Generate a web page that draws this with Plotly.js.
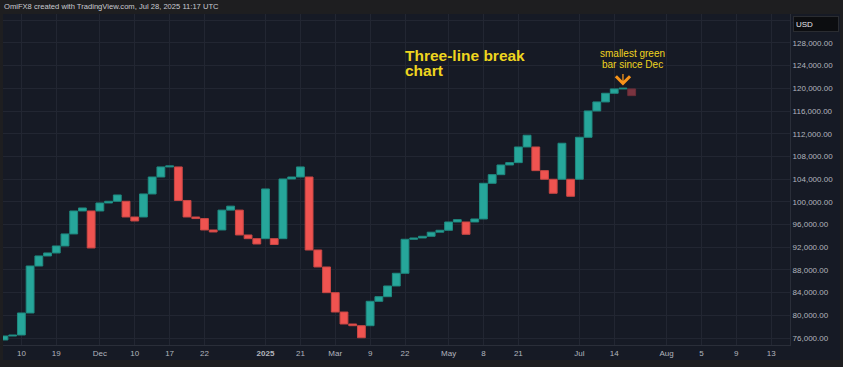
<!DOCTYPE html>
<html>
<head>
<meta charset="utf-8">
<script src="https://cdn.plot.ly/plotly-3.0.1.min.js"></script>
<style>
  html, body { margin:0; padding:0; width:843px; height:367px; overflow:hidden; background:#1e1e20; }
  #hdr { position:absolute; left:0; top:0; width:843px; height:14px; background:#1e1e20;
         font-family:"Liberation Sans", Arial, sans-serif; font-size:7.6px; color:#c9cbd1;
         line-height:13px; padding-left:4px; box-sizing:border-box; white-space:nowrap; }
  #chart { position:absolute; left:3px; top:14px; width:837px; height:346px; }
</style>
</head>
<body>
<div id="hdr">OmiFX8 created with TradingView.com, Jul 28, 2025 11:17 UTC</div>
<div id="chart"></div>
<script>
// ---- data ----
const firstOpen = 75650;
const closes = [
  76350, 76530, 80410, 88690, 90460, 90990, 92220, 94340, 98390, 98920,
  91870, 99800, 100100, 101210, 97330, 96630, 101390, 104380, 106150, 106350,
  100240, 97330, 97050, 95040, 94690, 98540, 99240, 94160, 93510, 92570,
  102270, 92480, 104030, 104380, 106150, 91510, 88520, 83990, 80580, 78470,
  78170, 76050, 82470, 83280, 85170, 87410, 93400, 93630, 93930, 94650,
  94990, 96450, 96860, 94280, 96980, 103270, 104790, 106500, 106910, 109670,
  111740, 105500, 103980, 101510, 110330, 100980, 111380, 116020, 117610, 119140,
  119900, 120050, 118720
];
const lastBarPending = true;
const tickIdx    = [2, 6, 11, 15, 19, 23, 30, 34, 38, 42, 46, 51, 55, 59, 66, 70, 76, 80, 84, 88];
const tickLabels = ["10","19","Dec","10","17","22","<b>2025</b>","21","Mar","9","22","May","8","21","Jul","14","Aug","5","9","13"];

// ---- build three-line-break boxes ----
const xs = [], bases = [], heights = [], fills = [], borders = [];
let prevO = firstOpen, prevC = null;
closes.forEach((c, i) => {
  let o, up;
  if (i === 0) { o = firstOpen; up = c > o; }
  else {
    up = c > prevC;
    o = up ? Math.max(prevO, prevC) : Math.min(prevO, prevC);
  }
  xs.push(i);
  bases.push(Math.min(o, c));
  heights.push(Math.abs(c - o));
  const pending = lastBarPending && i === closes.length - 1;
  if (pending) { fills.push('#7a3440'); borders.push('#6a2d37'); }
  else if (up) { fills.push('#26a69a'); borders.push('#1f8a80'); }
  else { fills.push('#ef5350'); borders.push('#c94744'); }
  prevO = o; prevC = c;
});

const trace = {
  type: 'bar', x: xs, y: heights, base: bases, width: 0.9,
  marker: { color: fills, line: { color: borders, width: 1 } },
  hoverinfo: 'skip', showlegend: false
};

const yellow = '#efd51f';
const layout = {
  width: 837, height: 346,
  margin: { l: 0, r: 50, t: 0, b: 15 },
  paper_bgcolor: '#161a25', plot_bgcolor: '#161a25',
  bargap: 0,
  xaxis: {
    range: [-0.11, 90.16], tickmode: 'array', tickvals: tickIdx, ticktext: tickLabels,
    showgrid: true, gridcolor: '#222632', gridwidth: 1, zeroline: false,
    showline: true, linecolor: '#2a2e39', ticks: '',
    tickfont: { family: 'Liberation Sans, Arial, sans-serif', size: 8, color: '#b2b5be' },
    fixedrange: true
  },
  yaxis: {
    side: 'right', range: [74766, 133110], tick0: 76000, dtick: 4000, tickformat: ',.2f',
    showgrid: true, gridcolor: '#222632', gridwidth: 1, zeroline: false,
    showline: true, linecolor: '#2a2e39', ticks: '',
    tickfont: { family: 'Liberation Sans, Arial, sans-serif', size: 8, color: '#b2b5be' },
    fixedrange: true
  },
  annotations: [
    { xref: 'x', yref: 'y', x: 45.75, y: 127600, xanchor: 'left', yanchor: 'top', showarrow: false,
      text: 'Three-line break', font: { family: 'Liberation Sans, Arial, sans-serif', size: 15.5, color: yellow, weight: 'bold' } },
    { xref: 'x', yref: 'y', x: 45.75, y: 124950, xanchor: 'left', yanchor: 'top', showarrow: false,
      text: 'chart', font: { family: 'Liberation Sans, Arial, sans-serif', size: 15.5, color: yellow, weight: 'bold' } },
    { xref: 'x', yref: 'y', x: 72.1, y: 126150, xanchor: 'center', yanchor: 'middle', showarrow: false,
      text: 'smallest green', font: { family: 'Liberation Sans, Arial, sans-serif', size: 10, color: yellow } },
    { xref: 'x', yref: 'y', x: 72.1, y: 124250, xanchor: 'center', yanchor: 'middle', showarrow: false,
      text: 'bar since Dec', font: { family: 'Liberation Sans, Arial, sans-serif', size: 10, color: yellow } },
    { xref: 'x', yref: 'y', x: 71, y: 120500, text: '', showarrow: true, ax: 0, ay: -13,
      arrowcolor: '#f7931a', arrowwidth: 1.3, arrowhead: 4, arrowsize: 2.1, standoff: 0 },
    { xref: 'paper', yref: 'paper', x: 1, y: 1, xanchor: 'left', yanchor: 'top', xshift: 3, yshift: -2,
      showarrow: false, text: 'USD', align: 'left', width: 40, height: 10,
      bgcolor: '#0c0d10', bordercolor: '#2a2c31', borderwidth: 1, borderpad: 2,
      font: { family: 'Liberation Sans, Arial, sans-serif', size: 8, color: '#e6e7ea' } }
  ]
};

Plotly.newPlot('chart', [trace], layout, { staticPlot: true, displayModeBar: false });
</script>
</body>
</html>
